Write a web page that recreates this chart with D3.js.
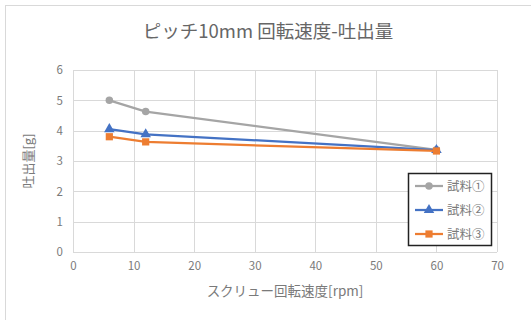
<!DOCTYPE html>
<html>
<head>
<meta charset="utf-8">
<script src="https://cdn.jsdelivr.net/npm/d3@7"></script>
<style>
  html, body { margin: 0; padding: 0; background: #fff; }
  svg { display: block; font-family: "Noto Sans CJK JP", "Noto Sans", sans-serif; }
</style>
</head>
<body>
<svg id="chart" width="531" height="320"></svg>
<script>
// Screw speed (rpm) and discharge amount (g) for each sample
const speeds = [6, 12, 60];
const sample1 = [5.0, 4.63, 3.37];
const sample2 = [4.05, 3.88, 3.36];
const sample3 = [3.80, 3.63, 3.33];
const seriesNames = ["試料①", "試料②", "試料③"];
const xTicks = [0, 10, 20, 30, 40, 50, 60, 70];
const yTicks = [0, 1, 2, 3, 4, 5, 6];
const titleText = "ピッチ10mm 回転速度-吐出量";
const xTitle = "スクリュー回転速度[rpm]";
const yTitle = "吐出量[g]";

const colors = ["#A5A5A5", "#4472C4", "#ED7D31"];
const markers = [d3.symbolCircle, d3.symbolTriangle, d3.symbolSquare];
const markerSizes = [44, 48, 52];
const textGray = "#7a7a7a";

const svg = d3.select("#chart");

// outer chart frame
svg.append("rect")
  .attr("x", 5.5).attr("y", 5.5)
  .attr("width", 530).attr("height", 330)
  .attr("fill", "#fff").attr("stroke", "#d9d9d9").attr("stroke-width", 1);

const x = d3.scaleLinear().domain([0, 70]).range([73, 497]);
const y = d3.scaleLinear().domain([0, 6]).range([252, 70]);

// gridlines
svg.append("g").selectAll("line").data(yTicks).join("line")
  .attr("x1", x(0)).attr("x2", x(70))
  .attr("y1", d => Math.round(y(d)) + 0.5).attr("y2", d => Math.round(y(d)) + 0.5)
  .attr("stroke", "#d9d9d9").attr("stroke-width", 1);
svg.append("g").selectAll("line").data(xTicks).join("line")
  .attr("y1", y(0)).attr("y2", y(6))
  .attr("x1", d => Math.round(x(d)) + 0.5).attr("x2", d => Math.round(x(d)) + 0.5)
  .attr("stroke", "#d9d9d9").attr("stroke-width", 1);

// axes (labels only, lines come from the grid)
const xAxis = svg.append("g")
  .attr("transform", `translate(0,${y(0)})`)
  .call(d3.axisBottom(x).tickValues(xTicks).tickFormat(d3.format("d")).tickSize(0).tickPadding(10));
const yAxis = svg.append("g")
  .attr("transform", `translate(${x(0)},0)`)
  .call(d3.axisLeft(y).tickValues(yTicks).tickFormat(d3.format("d")).tickSize(0).tickPadding(10));
[xAxis, yAxis].forEach(a => {
  a.select(".domain").remove();
  a.selectAll("text")
    .attr("fill", textGray)
    .attr("font-size", 11.5)
    .attr("font-family", "\"Noto Sans CJK JP\", sans-serif");
});

// title
svg.append("text")
  .attr("x", 268).attr("y", 38)
  .attr("text-anchor", "middle")
  .attr("font-size", 18.5)
  .attr("fill", "#666")
  .text(titleText);

// axis titles
svg.append("text")
  .attr("x", 285).attr("y", 296)
  .attr("text-anchor", "middle")
  .attr("font-size", 13.5)
  .attr("fill", textGray)
  .text(xTitle);
svg.append("text")
  .attr("transform", "translate(33,161) rotate(-90)")
  .attr("text-anchor", "middle")
  .attr("font-size", 13)
  .attr("fill", textGray)
  .text(yTitle);

// series lines and markers
const allSeries = [sample1, sample2, sample3];
const line = d3.line().x(d => x(d[0])).y(d => y(d[1]));
allSeries.forEach((vals, i) => {
  const pts = speeds.map((s, j) => [s, vals[j]]);
  svg.append("path")
    .datum(pts)
    .attr("d", line)
    .attr("fill", "none")
    .attr("stroke", colors[i])
    .attr("stroke-width", 2.25)
    .attr("stroke-linejoin", "round");
  svg.append("g").selectAll("path").data(pts).join("path")
    .attr("transform", d => `translate(${x(d[0])},${y(d[1])})`)
    .attr("d", d3.symbol().type(markers[i]).size(markerSizes[i]))
    .attr("fill", colors[i]);
});

// legend
const lg = svg.append("g");
lg.append("rect")
  .attr("x", 408.5).attr("y", 173.5)
  .attr("width", 83).attr("height", 72)
  .attr("fill", "#fff").attr("stroke", "#222").attr("stroke-width", 1.5);
seriesNames.forEach((name, i) => {
  const cy = 186 + i * 24;
  lg.append("line")
    .attr("x1", 415).attr("x2", 443).attr("y1", cy).attr("y2", cy)
    .attr("stroke", colors[i]).attr("stroke-width", 2.25);
  lg.append("path")
    .attr("transform", `translate(429,${cy})`)
    .attr("d", d3.symbol().type(markers[i]).size(markerSizes[i]))
    .attr("fill", colors[i]);
  lg.append("text")
    .attr("x", 447).attr("y", cy + 4.5)
    .attr("font-size", 12.5)
    .attr("fill", textGray)
    .text(name);
});
</script>
</body>
</html>
